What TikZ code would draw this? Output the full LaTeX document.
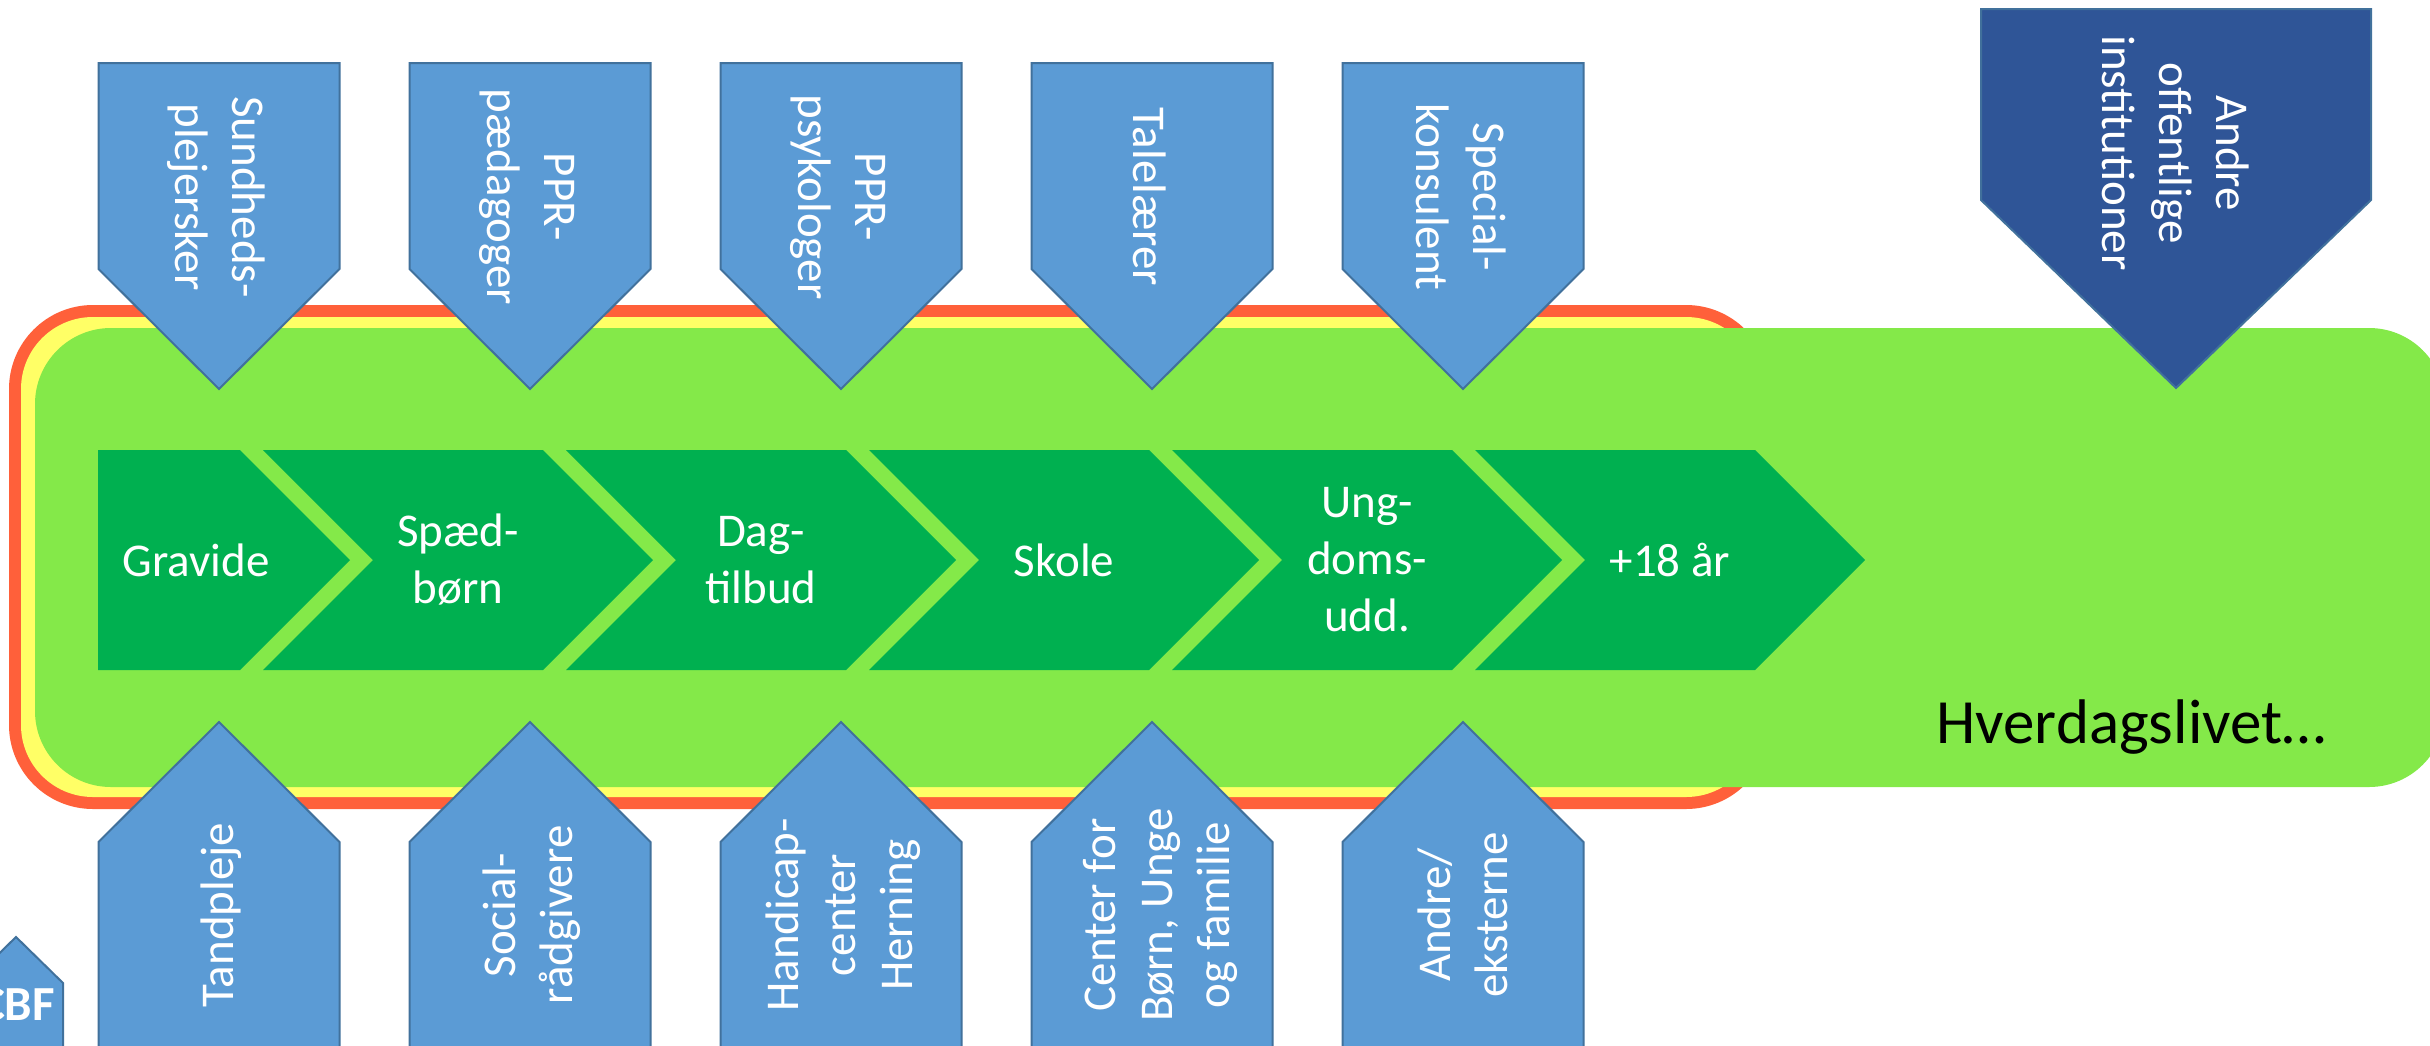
\documentclass[tikz,border=0pt]{standalone}
\usepackage{fontspec}
\setmainfont{Carlito}
\definecolor{frameorange}{RGB}{255,96,58}
\definecolor{frameyellow}{RGB}{255,255,102}
\definecolor{lifegreen}{RGB}{132,233,73}
\definecolor{stagegreen}{RGB}{0,176,80}
\definecolor{boxblue}{RGB}{91,155,213}
\definecolor{boxline}{RGB}{65,113,156}
\definecolor{darkblue}{RGB}{47,85,151}
\begin{document}
\begin{tikzpicture}[x=0.5pt,y=-0.5pt,
  stage/.style={fill=stagegreen},
  bluebox/.style={fill=boxblue,draw=boxline,line width=1pt,line join=miter},
  darkbox/.style={fill=darkblue,draw=boxline,line width=1pt,line join=miter},
  wtext/.style={text=white,font=\fontsize{23.5}{28.5}\selectfont,align=center,inner sep=0pt},
]
\clip (0,0) rectangle (2430,1045);
\fill[white] (0,0) rectangle (2430,1045);

% frame and everyday-life band
\fill[frameorange, rounded corners=42pt] (9,305) rectangle (1770,809);
\fill[frameyellow, rounded corners=36pt] (21,317) rectangle (1758,797);
\fill[lifegreen, rounded corners=38pt] (35,328) rectangle (2445,787);

% stage chevrons
\fill[stage] (98,450) -- (240,450) -- (350,560) -- (240,670) -- (98,670) -- cycle;
\foreach \t in {653,956,1259,1562,1865} {
  \fill[stage] (\t-390,450) -- (\t-110,450) -- (\t,560) -- (\t-110,670)
     -- (\t-390,670) -- (\t-280,560) -- cycle;
}

% blue boxes
\foreach \c in {219,530,841,1152,1463} {
  \draw[bluebox] (\c-120.5,63) -- (\c+120.5,63) -- (\c+120.5,269) -- (\c,389)
     -- (\c-120.5,269) -- cycle;
  \draw[bluebox] (\c,722) -- (\c+120.5,842) -- (\c+120.5,1070)
     -- (\c-120.5,1070) -- (\c-120.5,842) -- cycle;
}
% dark box
\draw[darkbox] (1981,9) -- (2371,9) -- (2371,200) -- (2176,388) -- (1981,200) -- cycle;
% CBF box
\draw[bluebox] (16,937) -- (63,983) -- (63,1070) -- (-31,1070) -- (-31,983) -- cycle;

% stage texts
\node[wtext] (s1) at (196,560) {Gravide};
\node[wtext] (s2) at (458,560) {Spæd-\\børn};
\node[wtext] (s3) at (761,560) {Dag-\\tilbud};
\node[wtext] (s4) at (1064,560) {Skole};
\node[wtext] (s5) at (1367,560) {Ung-\\doms-\\udd.};
\node[wtext] (s6) at (1670,560) {+18 år};

% top box texts
\node[wtext,rotate=-90] (t1) at (216,197) {Sundheds-\\plejersker};
\node[wtext,rotate=-90] (t2) at (527,197) {PPR-\\pædagoger};
\node[wtext,rotate=-90] (t3) at (838,197) {PPR-\\psykologer};
\node[wtext,rotate=-90] (t4) at (1150,197) {Talelærer};
\node[wtext,rotate=-90] (t5) at (1461,197) {Special-\\konsulent};
\node[wtext,rotate=-90] (other) at (2176,153) {Andre\\offentlige\\institutioner};

% bottom box texts
\node[wtext,rotate=90] (b1) at (221,915) {Tandpleje};
\node[wtext,rotate=90] (b2) at (532,915) {Social-\\rådgivere};
\node[wtext,rotate=90] (b3) at (843,915) {Handicap-\\center\\Herning};
\node[wtext,rotate=90] (b4) at (1160,915) {Center for\\Børn, Unge\\og familie};
\node[wtext,rotate=90] (b5) at (1463,915) {Andre/\\eksterne};

% CBF
\node[text=white,font=\fontsize{24.5}{29}\selectfont\bfseries,inner sep=0pt] (cbf) at (17,1005) {CBF};

% everyday life label
\node[anchor=base west,inner sep=0pt,font=\fontsize{31.5}{38}\selectfont] (life) at (1936,743) {Hverdagslivet…};
\end{tikzpicture}
\end{document}
